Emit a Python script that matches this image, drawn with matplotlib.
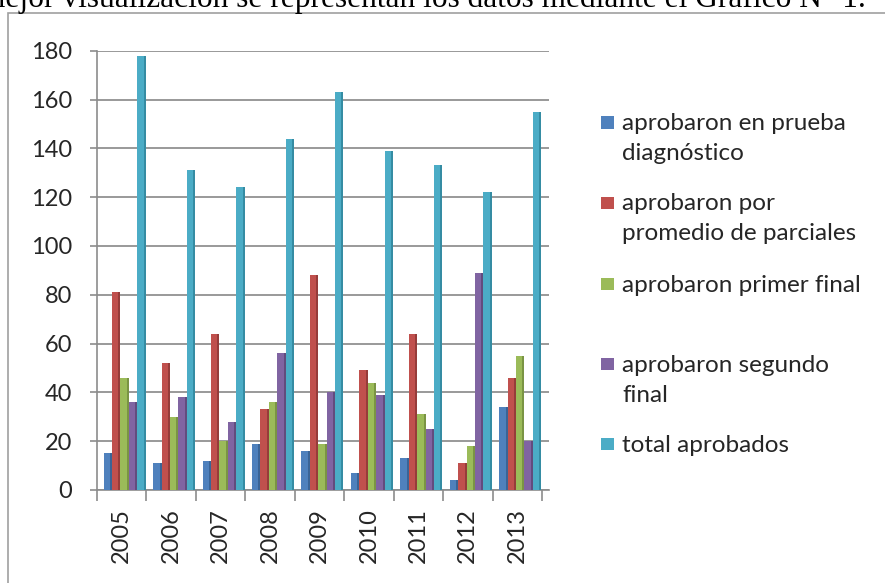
import matplotlib
matplotlib.use("Agg")
import matplotlib.pyplot as plt
from matplotlib.patches import Rectangle
import numpy as np

years = ["2005", "2006", "2007", "2008", "2009", "2010", "2011", "2012", "2013"]
series_names = [
    ["aprobaron en prueba", "diagnóstico"],
    ["aprobaron por", "promedio de parciales"],
    ["aprobaron primer final"],
    ["aprobaron segundo", "final"],
    ["total aprobados"],
]
prueba_diagnostico = [15, 11, 12, 19, 16, 7, 13, 4, 34]
promedio_parciales = [81, 52, 64, 33, 88, 49, 64, 11, 46]
primer_final = [46, 30, 20, 36, 19, 44, 31, 18, 55]
segundo_final = [36, 38, 28, 56, 40, 39, 25, 89, 20]
total_aprobados = [178, 131, 124, 144, 163, 139, 133, 122, 155]
y_ticks = [0, 20, 40, 60, 80, 100, 120, 140, 160, 180]

series = [prueba_diagnostico, promedio_parciales, primer_final, segundo_final, total_aprobados]
colors = ["#4F81BD", "#C0504D", "#9BBB59", "#8064A2", "#4BACC6"]
side_colors = ["#3A6496", "#963C3A", "#7A9444", "#624C7E", "#358CA3"]

W, H = 885, 583
fig = plt.figure(figsize=(W / 100, H / 100), dpi=100)
fig.patch.set_facecolor("white")


def fx(px):
    return px / W


def fy(py):
    return 1 - py / H


# plot area in pixel coordinates
left_px, right_px, top_px, bottom_px = 97, 549, 50.7, 490
ax = fig.add_axes([fx(left_px), fy(bottom_px), fx(right_px - left_px), (bottom_px - top_px) / H])

x = np.arange(len(years))
bar_w = 0.17
shift = 0.06
for i, (vals, c, sc) in enumerate(zip(series, colors, side_colors)):
    pos = x + shift + (i - 2) * bar_w
    ax.bar(pos, vals, width=bar_w, color=sc, linewidth=0, zorder=3)
    ax.bar(pos - bar_w * 0.12, vals, width=bar_w * 0.76, color=c, linewidth=0, zorder=4)

ax.set_xlim(-0.5, 8.5 + 7 / 49.5)
ax.set_ylim(0, 180)
ax.set_yticks(y_ticks)
ax.set_yticklabels([str(v) for v in y_ticks])
ax.yaxis.grid(True, color="#878787", linewidth=1.2, zorder=0)
ax.set_axisbelow(True)

ax.set_xticks(np.arange(-0.5, 9.0, 1.0))
ax.set_xticklabels([])
ax.set_xticks(x, minor=True)
ax.set_xticklabels(years, minor=True, rotation=90, va="top", ha="center")
ax.tick_params(axis="x", which="major", length=8, width=1.2, color="#8c8c8c", direction="out")
ax.tick_params(axis="x", which="minor", length=0, pad=13)
ax.tick_params(axis="y", length=5, width=1.2, color="#8c8c8c", pad=13)

for side in ["top", "right"]:
    ax.spines[side].set_visible(False)
for side in ["left", "bottom"]:
    ax.spines[side].set_color("#8c8c8c")
    ax.spines[side].set_linewidth(1.2)

for lab in ax.get_yticklabels() + ax.get_xticklabels(minor=True):
    lab.set_fontfamily("Lato")
    lab.set_fontsize(17)
    lab.set_color("#262626")

# legend: square markers with wrapped labels, one text per line
legend_centers = [122.5, 203, 284, 364, 444]
line_step = 30
for lines, c, cy in zip(series_names, colors, legend_centers):
    sq = 12.5
    fig.add_artist(Rectangle((fx(601), fy(cy + sq / 2)), fx(sq), sq / H,
                             transform=fig.transFigure, facecolor=c, edgecolor="none"))
    for k, line in enumerate(lines):
        fig.text(fx(622), fy(cy + 7.5 + k * line_step), line, ha="left", va="baseline",
                 family="Lato", fontsize=17.5, color="#262626")

# chart frame
fig.add_artist(Rectangle((fx(8), fy(H + 5)), fx(W), (H + 5 - 12.7) / H,
                         transform=fig.transFigure, facecolor="none",
                         edgecolor="#a0a0a0", linewidth=1.2))

# line of document text above the chart
fig.text(fx(866), fy(7.5), "mejor visualización se representan los datos mediante el Gráfico N° 1.",
         ha="right", va="baseline", family="Liberation Serif", fontsize=22.6, color="black")

fig.savefig("out.png", dpi=100, facecolor="white")
